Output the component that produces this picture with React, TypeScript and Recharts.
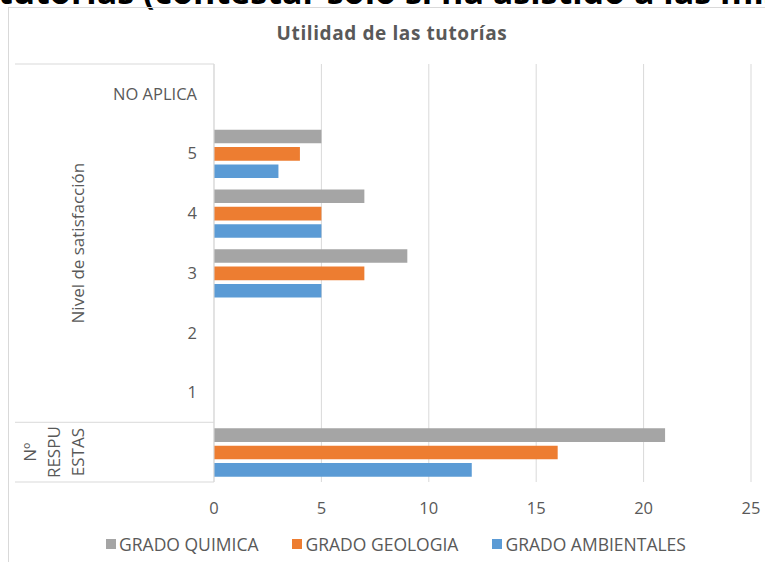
import React from 'react';
import { BarChart, Bar, XAxis, YAxis, CartesianGrid, Legend } from 'recharts';

// ---- data ----
const categories = ['NO APLICA', '5', '4', '3', '2', '1', 'Nº RESPUESTAS'];
const categoryLabels = ['NO APLICA', '5', '4', '3', '2', '1', ''];
const quimica = [0, 5, 7, 9, 0, 0, 21];
const geologia = [0, 4, 5, 7, 0, 0, 16];
const ambientales = [0, 3, 5, 5, 0, 0, 12];
const xTicks = [0, 5, 10, 15, 20, 25];
const seriesNames = ['GRADO QUIMICA', 'GRADO GEOLOGIA', 'GRADO AMBIENTALES'];
const groups = [
  { lines: ['Nivel de satisfacción'], start: 0, end: 5 },
  { lines: ['Nº', 'RESPU', 'ESTAS'], start: 6, end: 6 },
];
const chartTitle = 'Utilidad de las tutorías';
const pageHeading = 'tutorías (contestar solo si ha asistido a las mismas)';

const data = categories.map((c, i) => ({
  cat: c,
  quimica: quimica[i],
  geologia: geologia[i],
  ambientales: ambientales[i],
}));

// ---- layout ----
const W = 765;
const H = 562;
const PLOT_TOP = 64;
const PLOT_BOTTOM = 482;
const Y_AXIS_W = 214;
const RIGHT = 14;
const TICK_MARGIN = 17;
const GROUP_LINE_LEFT = 15;
const GROUP_LABEL_X = 78;
const GROUP_LINE_STEP = 24;
const TEXT = '#595959';
const GRID = '#d9d9d9';
const FONT = "'Open Sans', sans-serif";

const YTick = (props: any) => {
  const { x, y, payload } = props;
  const i = categories.indexOf(payload.value);
  const band = (PLOT_BOTTOM - PLOT_TOP) / categories.length;
  const axisX = x + TICK_MARGIN;
  const els: any[] = [];
  if (i === 0) {
    els.push(
      <line key="top" x1={GROUP_LINE_LEFT} x2={axisX} y1={y - band / 2} y2={y - band / 2} stroke={GRID} strokeWidth={1} />
    );
  }
  groups.forEach((g, gi) => {
    if (g.end === i) {
      els.push(
        <line key={'e' + gi} x1={GROUP_LINE_LEFT} x2={axisX} y1={y + band / 2} y2={y + band / 2} stroke={GRID} strokeWidth={1} />
      );
    }
    if (g.start === i) {
      const cy = y + ((g.end - g.start) / 2) * band;
      const n = g.lines.length;
      g.lines.forEach((ln, li) => {
        const lx = GROUP_LABEL_X - (n - 1 - li) * GROUP_LINE_STEP;
        els.push(
          <text
            key={'g' + gi + '-' + li}
            x={lx}
            y={cy}
            dy="0.36em"
            textAnchor="middle"
            fill={TEXT}
            fontSize={17}
            fontFamily={FONT}
            transform={`rotate(-90, ${lx}, ${cy})`}
          >
            {ln}
          </text>
        );
      });
    }
  });
  return (
    <g>
      {els}
      <text x={x} y={y} dy="0.355em" textAnchor="end" fill={TEXT} fontSize={16.5} fontFamily={FONT}>
        {categoryLabels[i]}
      </text>
    </g>
  );
};

const renderLegend = (props: any) => {
  const payload = (props.payload || [])
    .slice()
    .sort((a: any, b: any) => seriesNames.indexOf(a.value) - seriesNames.indexOf(b.value));
  return (
    <div
      style={{
        display: 'flex',
        justifyContent: 'center',
        alignItems: 'center',
        height: 22,
        fontFamily: FONT,
        fontSize: 17.5,
        color: TEXT,
      }}
    >
      {payload.map((e: any, i: number) => (
        <div
          key={i}
          style={{ display: 'flex', alignItems: 'center', marginRight: i < payload.length - 1 ? 34 : 0 }}
        >
          <span style={{ display: 'inline-block', width: 10, height: 10, background: e.color, marginRight: 3 }} />
          <span>{e.value}</span>
        </div>
      ))}
    </div>
  );
};

export default function App() {
  return (
    <div style={{ position: 'relative', width: W, height: H, overflow: 'hidden', background: '#fff', fontFamily: FONT }}>
      <style>{'body{margin:0;}'}</style>
      <svg width={W} height={20} style={{ position: 'absolute', left: 0, top: 0 }}>
        <text x={-2} y={4} fontSize={34} fontWeight={700} fill="#000" fontFamily={FONT}>
          {pageHeading}
        </text>
      </svg>
      <div
        style={{
          position: 'absolute',
          left: 8,
          top: 7,
          width: 900,
          height: 700,
          border: `1px solid ${GRID}`,
          boxSizing: 'border-box',
        }}
      />
      <div
        style={{
          position: 'absolute',
          left: 0,
          top: 20,
          width: 784,
          textAlign: 'center',
          fontSize: 19,
          fontWeight: 700,
          color: TEXT,
          letterSpacing: 0.6,
          lineHeight: '26px',
        }}
      >
        {chartTitle}
      </div>
      <div style={{ position: 'absolute', left: 0, top: 0 }}>
        <BarChart
          width={W}
          height={H}
          data={data}
          layout="vertical"
          margin={{ top: PLOT_TOP, right: RIGHT, left: 0, bottom: 0 }}
          barGap={3.8}
        >
          <CartesianGrid horizontal={false} stroke={GRID} strokeWidth={1} />
          <XAxis
            type="number"
            domain={[0, 25]}
            ticks={xTicks}
            interval={0}
            axisLine={false}
            tickLine={false}
            tickSize={0}
            tickMargin={20}
            height={H - PLOT_BOTTOM}
            tick={{ fill: TEXT, fontSize: 16.5, fontFamily: FONT }}
          />
          <YAxis
            type="category"
            dataKey="cat"
            width={Y_AXIS_W}
            interval={0}
            axisLine={{ stroke: GRID, strokeWidth: 1 }}
            tickLine={false}
            tickSize={0}
            tickMargin={TICK_MARGIN}
            tick={<YTick />}
          />
          <Legend
            verticalAlign="middle"
            align="center"
            content={renderLegend}
            wrapperStyle={{ top: 533, left: 0, width: 792, height: 22 }}
          />
          <Bar dataKey="quimica" name={seriesNames[0]} fill="#A5A5A5" barSize={13.6} isAnimationActive={false} />
          <Bar dataKey="geologia" name={seriesNames[1]} fill="#ED7D31" barSize={13.6} isAnimationActive={false} />
          <Bar dataKey="ambientales" name={seriesNames[2]} fill="#5B9BD5" barSize={13.6} isAnimationActive={false} />
        </BarChart>
      </div>
    </div>
  );
}
